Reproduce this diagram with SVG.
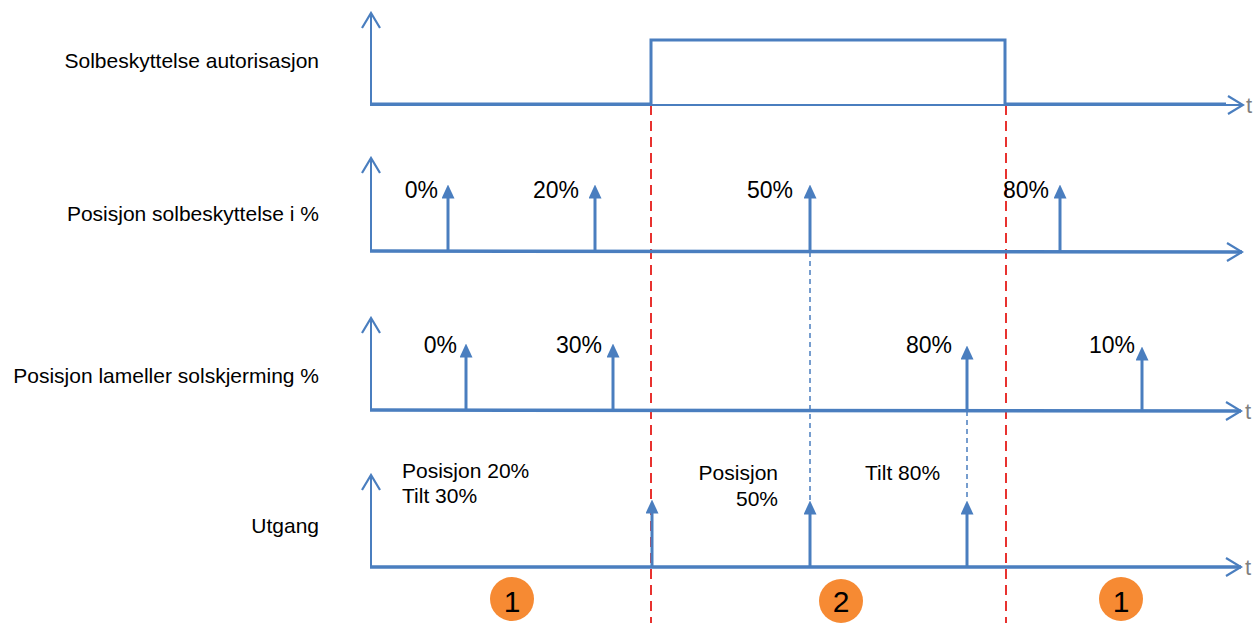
<svg xmlns="http://www.w3.org/2000/svg" width="1254" height="623" viewBox="0 0 1254 623">
<style>
  text { font-family: "Liberation Sans", Arial, Helvetica, sans-serif; fill: #000; }
  .lbl { font-size: 21px; text-anchor: end; }
  .pct { font-size: 23px; text-anchor: end; }
  .note { font-size: 21px; }
  .t { font-size: 22px; fill: #7f7f7f; }
  .num { font-size: 30px; text-anchor: middle; }
  .axis { stroke: #4a7ebf; stroke-width: 2; fill: none; marker-end: url(#open); }
  .base { stroke: #4a7ebf; stroke-width: 3.5; fill: none; marker-end: url(#open); }
  .sig { stroke: #4a7ebf; stroke-width: 3; fill: none; marker-end: url(#head); }
  .pulse { stroke: #4a7ebf; stroke-width: 3; fill: none; }
  .red { stroke: #e8322f; stroke-width: 2; stroke-dasharray: 10 6; fill: none; }
  .bdash { stroke: #4a7ebf; stroke-width: 1.5; stroke-dasharray: 5 4; fill: none; }
  .badge { fill: #f68a33; }
</style>
<defs>
  <marker id="open" viewBox="0 0 18 20" markerWidth="18" markerHeight="20" refX="16" refY="10" orient="auto" markerUnits="userSpaceOnUse">
    <path d="M1,1 L16,10 L1,19" fill="none" stroke="#4a7ebf" stroke-width="2.2"/>
  </marker>
  <marker id="head" viewBox="0 0 14 13" markerWidth="14" markerHeight="13" refX="0.5" refY="6.5" orient="auto" markerUnits="userSpaceOnUse">
    <path d="M0,0 L14,6.5 L0,13 z" fill="#4a7ebf"/>
  </marker>
</defs>

<!-- row labels -->
<g id="labels">
  <text class="lbl" x="319" y="68">Solbeskyttelse autorisasjon</text>
  <text class="lbl" x="319" y="221">Posisjon solbeskyttelse i %</text>
  <text class="lbl" x="319" y="383">Posisjon lameller solskjerming %</text>
  <text class="lbl" x="319" y="533">Utgang</text>
</g>

<!-- red dashed phase boundaries -->
<g id="boundaries">
  <line class="red" x1="651" y1="105" x2="651" y2="623"/>
  <line class="red" x1="1006" y1="105" x2="1006" y2="623"/>
</g>

<!-- row 1 -->
<g id="row1">
  <line class="axis" x1="371" y1="106" x2="371" y2="13"/>
  <line class="axis" x1="371" y1="105" x2="1243" y2="105"/>
  <path class="pulse" d="M371,104 L651,104 L651,40 L1005,40 L1005,104 L1226,104"/>
  <text class="t" x="1246" y="113">t</text>
</g>

<!-- connectors between rows -->
<g id="connectors">
  <line class="bdash" x1="810" y1="252" x2="810" y2="500"/>
  <line class="bdash" x1="967" y1="411" x2="967" y2="500"/>
</g>

<!-- row 2 -->
<g id="row2">
  <line class="axis" x1="371" y1="252" x2="371" y2="158"/>
  <line class="base" x1="370" y1="251" x2="1242" y2="252"/>
  <line class="sig" x1="448" y1="251" x2="448" y2="198"/>
  <line class="sig" x1="595" y1="251" x2="595" y2="198"/>
  <line class="sig" x1="810" y1="251" x2="810" y2="198"/>
  <line class="sig" x1="1060" y1="252" x2="1060" y2="198"/>
  <text class="pct" x="438" y="198">0%</text>
  <text class="pct" x="579" y="198">20%</text>
  <text class="pct" x="793" y="198">50%</text>
  <text class="pct" x="1049" y="198">80%</text>
</g>

<!-- row 3 -->
<g id="row3">
  <line class="axis" x1="371" y1="411" x2="371" y2="318"/>
  <line class="base" x1="370" y1="410" x2="1241" y2="411"/>
  <line class="sig" x1="466" y1="410" x2="466" y2="357"/>
  <line class="sig" x1="613" y1="410" x2="613" y2="357"/>
  <line class="sig" x1="967" y1="410" x2="967" y2="359"/>
  <line class="sig" x1="1142" y1="411" x2="1142" y2="360"/>
  <text class="pct" x="457" y="353">0%</text>
  <text class="pct" x="602" y="353">30%</text>
  <text class="pct" x="952" y="353">80%</text>
  <text class="pct" x="1135" y="353">10%</text>
  <text class="t" x="1245" y="419">t</text>
</g>

<!-- row 4 -->
<g id="row4">
  <line class="axis" x1="371" y1="568" x2="371" y2="475"/>
  <line class="base" x1="370" y1="567" x2="1241" y2="567"/>
  <line class="sig" x1="652" y1="567" x2="652" y2="513"/>
  <line class="sig" x1="810" y1="567" x2="810" y2="514"/>
  <line class="sig" x1="967" y1="567" x2="967" y2="514"/>
  <text class="note" x="402" y="478">Posisjon 20%</text>
  <text class="note" x="402" y="503">Tilt 30%</text>
  <text class="note" x="778" y="480" text-anchor="end">Posisjon</text>
  <text class="note" x="778" y="506" text-anchor="end">50%</text>
  <text class="note" x="865" y="480">Tilt 80%</text>
  <text class="t" x="1245" y="575">t</text>
</g>

<!-- phase badges -->
<g id="badge1a">
  <circle class="badge" cx="512" cy="599" r="22"/>
  <text class="num" x="512" y="612">1</text>
</g>
<g id="badge2">
  <circle class="badge" cx="841" cy="601" r="22"/>
  <text class="num" x="841" y="612">2</text>
</g>
<g id="badge1b">
  <circle class="badge" cx="1121" cy="599" r="22"/>
  <text class="num" x="1121" y="612">1</text>
</g>
</svg>
